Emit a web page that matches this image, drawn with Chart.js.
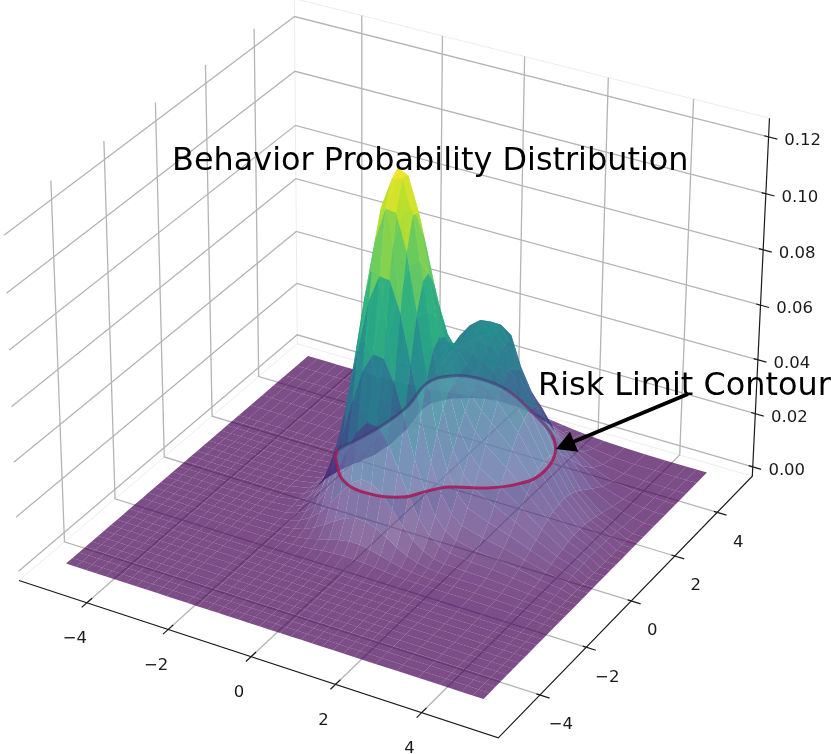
<!DOCTYPE html>
<html>
<head>
<meta charset="utf-8">
<title>Behavior Probability Distribution</title>
<style>
  html, body { margin: 0; padding: 0; background: #fff; }
  canvas { display: block; }
</style>
<script src="https://cdn.jsdelivr.net/npm/chart.js"></script>
</head>
<body>
<canvas id="myChart" width="831" height="754"></canvas>
<script>
// axis ticks
const xTicks = [-4, -2, 0, 2, 4];
const yTicks = [-4, -2, 0, 2, 4];
const zTicks = [0, 0.02, 0.04, 0.06, 0.08, 0.10, 0.12];
const xTickLabels = ['\u22124', '\u22122', '0', '2', '4'];
const yTickLabels = ['\u22124', '\u22122', '0', '2', '4'];
const zTickLabels = ['0.00', '0.02', '0.04', '0.06', '0.08', '0.10', '0.12'];

// flat floor positions outside the hump
const floorLeftX = [-5, -4.75, -4.5, -4.25, -4, -3.75, -3.5, -3.25, -3, -2.75];
const floorRightX = [4.75, 5];
const floorFrontY = [-5, -4.75, -4.5, -4.25, -4, -3.75, -3.5, -3.25, -3, -2.75];

const surfaceX = [-2.5, -2, -1.75, -1.5, -1.25, -1, -0.75, -0.5, -0.25, 0, 0.25, 0.5, 0.75, 1, 1.25, 1.5, 1.75, 2, 2.5, 3, 3.5, 4, 4.5];
const surfaceY = [-2.5, -2, -1.75, -1.5, -1.25, -1, -0.75, -0.5, -0.25, 0, 0.25, 0.5, 0.75, 1, 1.25, 1.5, 1.75, 2, 2.5, 3, 3.5, 4, 4.5, 5];

// height of the surface in units of 0.0001, one row per surfaceY
const zRows = [
  [0,0,0,0,0,1,1,2,2,2,2,2,1,1,1,1,1,1,1,1,1,1,0],
  [0,0,1,2,4,6,10,15,18,20,20,18,14,10,7,5,4,3,3,4,3,2,2],
  [0,1,2,4,9,16,26,37,47,53,53,46,36,26,17,11,8,7,7,7,6,4,2],
  [0,2,4,10,20,37,59,85,107,120,119,105,83,58,38,25,17,13,12,12,10,7,4],
  [0,3,9,20,41,74,119,170,216,242,239,211,165,118,76,48,32,25,21,20,16,10,6],
  [1,6,15,35,72,131,212,303,384,429,426,375,295,209,136,85,57,43,35,31,24,15,8],
  [1,9,24,55,114,208,325,464,587,657,652,576,453,322,216,137,92,70,55,47,35,21,11],
  [1,13,33,77,158,280,453,647,819,916,911,806,636,454,302,200,136,104,83,68,49,29,14],
  [2,16,41,95,196,346,560,799,1013,1134,1130,1002,798,577,390,266,189,149,119,95,64,37,17],
  [2,17,44,104,214,378,612,875,1110,1218,1232,1112,893,658,459,321,244,201,161,125,82,45,20],
  [2,16,44,101,209,369,596,853,1083,1240,1225,1107,905,685,502,374,302,258,210,158,100,52,23],
  [1,15,38,89,181,320,518,741,944,1072,1088,998,839,667,519,423,359,320,261,189,116,58,25],
  [1,12,30,70,142,258,405,583,748,859,889,839,738,625,535,463,416,382,309,217,128,62,25],
  [1,9,23,52,104,187,294,425,552,646,690,683,642,587,543,505,472,439,350,238,134,63,24],
  [1,8,18,38,75,133,214,311,410,494,551,579,583,575,563,546,522,487,379,248,135,61,23],
  [1,7,16,31,58,101,160,234,315,393,462,516,553,578,589,583,559,519,393,247,130,56,20],
  [2,8,17,31,54,90,139,202,276,380,455,515,554,594,611,607,579,500,387,235,119,50,17],
  [3,10,19,34,57,91,138,199,300,390,470,530,575,606,621,611,576,480,335,214,104,42,14],
  [4,15,27,44,71,108,156,250,335,415,490,540,570,575,574,547,440,365,245,153,69,26,8],
  [6,19,33,52,81,118,165,245,315,380,430,465,475,463,445,360,310,255,160,91,38,13,4],
  [7,20,33,51,76,107,144,184,226,264,294,314,319,309,286,253,213,150,96,45,17,6,2],
  [6,18,28,41,59,80,104,128,152,170,183,188,183,171,153,130,105,82,42,18,7,2,0],
  [5,13,20,28,38,50,62,74,84,91,94,93,88,79,68,55,43,32,16,6,2,1,0],
  [3,8,11,16,21,26,31,35,39,40,40,38,35,30,25,20,15,11,5,2,0,0,0]
];

// risk limit contour
const contourLevel = 0.02;
const contourX = [-1.16, -0.55, 0.15, 0.88, 1.20, 1.54, 2.23, 2.70, 2.94, 2.83, 2.39, 1.50, 0.66, -0.15, -0.70, -0.98, -0.86, -0.95, -1.11, -1.25, -1.16];
const contourY = [-0.35, -1.07, -1.27, -1.03, -0.57, -0.19, 0.17, 0.62, 1.18, 2.05, 2.74, 3.42, 3.92, 4.04, 3.83, 3.31, 2.21, 1.19, 0.48, -0.07, -0.35];

// box limits of the 3d axes
const xMin = -5.7, xMax = 5.75, yMin = -5.75, yMax = 5.7;
const zMin = -0.0035, zMax = 0.1265, zTop = 0.1246;

// camera, fitted on the corners of the floor and the z axis
function project(x, y, z) {
  const s = (x + 5) / 10, t = (y + 5) / 10;
  const w = -0.04661 * s + 0.07247 * t + 1 - 0.3364 * z;
  return {
    x: (394.96 * s + 264.32 * t + 66 - 123 * z) / w,
    y: (102.92 * s - 181.7 * t + 563.5 - 2872 * z) / w,
    depth: w
  };
}

function heightAt(x, y) {
  const i = surfaceX.indexOf(x), j = surfaceY.indexOf(y);
  if (i < 0 || j < 0) return 0;
  return zRows[j][i] / 10000;
}

const viridis = [[68,1,84],[72,40,120],[62,74,137],[49,104,142],[38,130,142],[31,158,137],[53,183,121],[109,205,89],[180,222,44],[253,231,37]];
function surfaceColor(z, lighten) {
  const v = Math.max(0, Math.min(1, z / zTop)) * (viridis.length - 1);
  const k = Math.min(viridis.length - 2, Math.floor(v)), f = v - k;
  const c = [0, 1, 2].map(n => {
    const col = viridis[k][n] + (viridis[k + 1][n] - viridis[k][n]) * f;
    return Math.round(col + (255 - col) * lighten);
  });
  // upper part looks more solid, many layers stack up there in the original
  const alpha = 0.7 + 0.18 * Math.max(0, Math.min(1, (z - 0.02) / 0.03));
  return 'rgba(' + c.join(',') + ',' + alpha.toFixed(3) + ')';
}

function lineSet(points, color, width, extra) {
  return Object.assign({ data: points, showLine: true, borderColor: color, borderWidth: width, pointRadius: 0, fill: false }, extra || {});
}

// surface cells, nearest first because chart.js paints the first dataset last
const meshX = floorLeftX.concat(surfaceX, floorRightX);
const meshY = floorFrontY.concat(surfaceY);
const cells = [];
for (let j = 0; j < meshY.length - 1; j++) {
  for (let i = 0; i < meshX.length - 1; i++) {
    const x0 = meshX[i], x1 = meshX[i + 1], y0 = meshY[j], y1 = meshY[j + 1];
    const z00 = heightAt(x0, y0), z10 = heightAt(x1, y0), z11 = heightAt(x1, y1), z01 = heightAt(x0, y1);
    const zMean = (z00 + z10 + z11 + z01) / 4;
    const slopeX = (z10 + z11 - z00 - z01) / 2 / (x1 - x0);
    const slopeY = (z01 + z11 - z00 - z10) / 2 / (y1 - y0);
    // the side looking at the camera comes out washed in the original
    const facing = Math.max(0, 0.87 * slopeY - 0.5 * slopeX);
    const lighten = Math.min(0.16, facing * 5) * Math.max(0, Math.min(1, (0.02 - zMean) / 0.01));
    const pts = [project(x0, y0, z00), project(x1, y0, z10), project(x1, y1, z11), project(x0, y1, z01), project(x0, y0, z00)];
    cells.push({
      depth: (pts[0].depth + pts[1].depth + pts[2].depth + pts[3].depth) / 4,
      set: { data: pts, showLine: true, borderWidth: 0, pointRadius: 0, backgroundColor: surfaceColor(zMean, lighten), fill: 'shape' }
    });
  }
}
cells.sort((a, b) => a.depth - b.depth);

// grid on the floor and the two back walls
const gridColor = '#b4b4b4';
const gridSets = [];
xTicks.forEach(x => {
  gridSets.push(lineSet([project(x, yMin, zMin), project(x, yMax, zMin), project(x, yMax, zMax)], gridColor, 1.3));
});
yTicks.forEach(y => {
  gridSets.push(lineSet([project(xMax, y, zMin), project(xMin, y, zMin), project(xMin, y, zMax)], gridColor, 1.3));
});
zTicks.forEach(z => {
  gridSets.push(lineSet([project(xMin, yMin, z), project(xMin, yMax, z), project(xMax, yMax, z)], gridColor, 1.3));
});
const paneSets = [
  lineSet([project(xMin, yMax, zMin), project(xMin, yMax, zMax), project(xMax, yMax, zMax)], '#ececec', 1),
  lineSet([project(xMin, yMin, zMin), project(xMin, yMax, zMin), project(xMax, yMax, zMin)], '#ececec', 1)
];

// axes and their ticks
const axisSets = [
  lineSet([project(xMin, yMin, zMin), project(xMax, yMin, zMin), project(xMax, yMax, zMin), project(xMax, yMax, zMax)], '#1a1a1a', 1.2)
];
xTicks.forEach(x => {
  axisSets.push(lineSet([project(x, yMin - 0.2, zMin), project(x, yMin + 0.2, zMin)], '#1a1a1a', 1.2));
});
yTicks.forEach(y => {
  axisSets.push(lineSet([project(xMax - 0.08, y, zMin), project(xMax + 0.22, y, zMin)], '#1a1a1a', 1.2));
});
zTicks.forEach(z => {
  axisSets.push(lineSet([project(xMax - 0.1, yMax, z), project(xMax + 0.2, yMax, z)], '#1a1a1a', 1.2));
});

// contour, filled with the pale wash that shows inside it
const contourPoints = contourX.map((x, i) => project(x, contourY[i], contourLevel));
function rimColor(i) {
  if (i >= 12 && i < 19) return 'rgba(60,58,115,0.6)';
  if (i >= 10 && i < 12) return 'rgba(110,55,115,0.75)';
  return 'rgba(165,26,88,0.88)';
}
const contourLine = lineSet(contourPoints, 'rgba(165,26,88,0.88)', 3, {
  tension: 0.4,
  segment: { borderColor: ctx => rimColor(ctx.p0DataIndex) }
});
const contourFill = { data: contourPoints, showLine: true, borderWidth: 0, pointRadius: 0, tension: 0.4, backgroundColor: 'rgba(175,215,235,0.25)', fill: 'shape' };

const textPlugin = {
  id: 'textPlugin',
  afterDraw(chart) {
    const c = chart.ctx;
    c.save();
    // arrow of the annotation
    const tip = [556, 449], tail = [688, 394], neck = [573, 442];
    c.strokeStyle = '#000';
    c.lineWidth = 4;
    c.beginPath(); c.moveTo(tail[0], tail[1]); c.lineTo(neck[0], neck[1]); c.stroke();
    c.fillStyle = '#000';
    c.beginPath(); c.moveTo(tip[0], tip[1]); c.lineTo(570, 431.7); c.lineTo(578.3, 451.7); c.closePath(); c.fill();

    c.font = '16.5px "DejaVu Sans"';
    c.fillStyle = '#1a1a1a';
    c.textAlign = 'center';
    c.textBaseline = 'middle';
    xTicks.forEach((x, i) => {
      const p = project(x, yMin, zMin);
      c.fillText(xTickLabels[i], p.x - 12, p.y + 36);
    });
    yTicks.forEach((y, i) => {
      const p = project(xMax, y, zMin);
      c.fillText(yTickLabels[i], p.x + 21, p.y + 30);
    });
    zTicks.forEach((z, i) => {
      const p = project(xMax, yMax, z);
      c.fillText(zTickLabels[i], p.x + 34, p.y + 4);
    });

    c.font = '31.9px "DejaVu Sans"';
    c.fillStyle = '#000';
    c.textAlign = 'left';
    c.textBaseline = 'alphabetic';
    c.fillText('Behavior Probability Distribution', 172, 170);
    c.fillText('Risk Limit Contour', 538, 395);
    c.restore();
  }
};

const ctx = document.getElementById('myChart');
const myChart = new Chart(ctx, {
  type: 'scatter',
  data: {
    datasets: [contourLine, contourFill].concat(cells.map(c => c.set), axisSets, gridSets, paneSets)
  },
  options: {
    responsive: false,
    animation: false,
    events: [],
    layout: { padding: 0 },
    scales: {
      x: { type: 'linear', min: 0, max: 831, display: false },
      y: { type: 'linear', min: 0, max: 754, reverse: true, display: false }
    },
    plugins: {
      legend: { display: false },
      tooltip: { enabled: false },
      title: { display: false }
    }
  },
  plugins: [textPlugin]
});
</script>
</body>
</html>
